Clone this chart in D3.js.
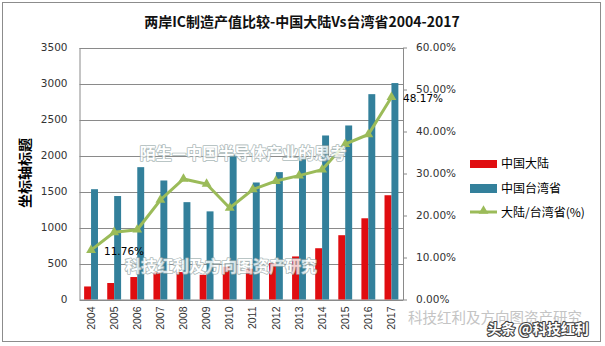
<!DOCTYPE html>
<meta charset="utf-8">
<head>
<style>
body { margin: 0; background: #fff; }
svg { display: block; }
.tick text { font: 10.5px "DejaVu Sans", sans-serif; fill: #333; }
.grid line { stroke: #8a8a8a; }
.wm { paint-order: stroke; stroke-linejoin: round; }
</style>
</head>
<body>
<svg width="605" height="346"></svg>
<script src="https://d3js.org/d3.v7.min.js"></script>
<script>

var years = ["2004","2005","2006","2007","2008","2009","2010","2011","2012","2013","2014","2015","2016","2017"];
var mainland = [181, 229, 312, 382, 381, 343, 455, 428, 505, 598, 712, 893, 1128, 1448];
var taiwan = [1532, 1437, 1838, 1653, 1352, 1224, 2008, 1625, 1769, 1977, 2278, 2417, 2852, 3006];
var ratio = [11.76, 16.0, 16.6, 23.7, 28.7, 27.5, 21.8, 26.2, 28.2, 29.5, 30.9, 37.0, 39.3, 48.17];
var leftTicks = [0, 500, 1000, 1500, 2000, 2500, 3000, 3500];
var rightTicks = [0, 10, 20, 30, 40, 50, 60];
var seriesNames = ["中国大陆", "中国台湾省", "大陆/台湾省(%)"];

var svg = d3.select("svg"),
    pL = 79.5, pR = 403, pT = 47.5, pB = 299.5;

var red = "#e00d10", teal = "#33809b", green = "#9bbb59";

// outer frame
svg.append("rect").attr("x", 2.5).attr("y", 2.5).attr("width", 598).attr("height", 339)
  .attr("fill", "#fff").attr("stroke", "#8c8c8c");

svg.append("text").attr("x", 302).attr("y", 27).attr("text-anchor", "middle")
  .style("font", "bold 14px 'Noto Sans CJK SC', sans-serif").attr("fill", "#111")
  .text("两岸IC制造产值比较-中国大陆Vs台湾省2004-2017");

var x0 = d3.scaleBand().domain(years).range([pL, pR]).paddingInner(0.4).paddingOuter(0.2);
var x1 = d3.scaleBand().domain(["m", "t"]).range([0, x0.bandwidth()]);
var y = d3.scaleLinear().domain([0, 3500]).range([pB, pT]);
var y2 = d3.scaleLinear().domain([0, 60]).range([pB, pT]);

// gridlines
svg.append("g").attr("class", "grid")
  .selectAll("line").data(leftTicks).enter().append("line")
  .attr("x1", pL).attr("x2", pR)
  .attr("y1", function(d) { return Math.round(y(d)) + 0.5; })
  .attr("y2", function(d) { return Math.round(y(d)) + 0.5; });

var yAxis = svg.append("g").attr("transform", "translate(" + pL + ",0)")
  .call(d3.axisLeft(y).tickValues(leftTicks).tickSize(0).tickPadding(12).tickFormat(d3.format("d")));
yAxis.select(".domain").attr("stroke", "#8a8a8a");

var yAxis2 = svg.append("g").attr("transform", "translate(" + pR + ",0)")
  .call(d3.axisRight(y2).tickValues(rightTicks).tickSize(4).tickSizeOuter(0).tickPadding(9)
    .tickFormat(function(d) { return d.toFixed(2) + "%"; }));
yAxis2.selectAll("line, .domain").attr("stroke", "#8a8a8a");

var xAxis = svg.append("g").attr("transform", "translate(0," + pB + ")")
  .call(d3.axisBottom(x0).tickSize(0));
xAxis.select(".domain").attr("stroke", "#8a8a8a");
xAxis.selectAll("text")
  .style("font", "10.5px 'Liberation Sans', sans-serif")
  .attr("transform", "rotate(-90)")
  .attr("text-anchor", "end")
  .attr("x", -7).attr("y", 0).attr("dy", "0.35em");

svg.append("text")
  .attr("transform", "translate(30,173) rotate(-90)")
  .attr("text-anchor", "middle")
  .style("font", "bold 14px 'Noto Sans CJK SC', sans-serif")
  .text("坐标轴标题");

// bars
svg.append("g").selectAll("rect").data(mainland).enter().append("rect")
  .attr("x", function(d, i) { return x0(years[i]) + x1("m"); })
  .attr("y", function(d) { return y(d); })
  .attr("width", x1.bandwidth())
  .attr("height", function(d) { return pB - y(d); })
  .attr("fill", red);

svg.append("g").selectAll("rect").data(taiwan).enter().append("rect")
  .attr("x", function(d, i) { return x0(years[i]) + x1("t"); })
  .attr("y", function(d) { return y(d); })
  .attr("width", x1.bandwidth())
  .attr("height", function(d) { return pB - y(d); })
  .attr("fill", teal);

// ratio line
var cx = function(d, i) { return x0(years[i]) + x0.bandwidth() / 2; };
var line = d3.line().x(cx).y(function(d) { return y2(d); });
svg.append("path").datum(ratio).attr("d", line)
  .attr("fill", "none").attr("stroke", green).attr("stroke-width", 3);

var tri = d3.symbol().type(d3.symbolTriangle).size(42);
svg.append("g").selectAll("path").data(ratio).enter().append("path")
  .attr("d", tri)
  .attr("transform", function(d, i) { return "translate(" + cx(d, i) + "," + y2(d) + ")"; })
  .attr("fill", green);

// data labels
svg.append("text").attr("x", 104).attr("y", 255)
  .style("font", "10.5px 'DejaVu Sans', sans-serif").text(ratio[0].toFixed(2) + "%");
svg.append("text").attr("x", 403).attr("y", 102)
  .style("font", "10.5px 'DejaVu Sans', sans-serif").text(ratio[13].toFixed(2) + "%");

// legend
var lg = svg.append("g").attr("transform", "translate(470,0)");
lg.append("rect").attr("x", 0).attr("y", 160).attr("width", 27).attr("height", 8).attr("fill", red);
lg.append("rect").attr("x", 0).attr("y", 184).attr("width", 27).attr("height", 9).attr("fill", teal);
lg.append("line").attr("x1", 0).attr("x2", 27).attr("y1", 212).attr("y2", 212)
  .attr("stroke", green).attr("stroke-width", 3);
lg.append("path").attr("d", tri).attr("transform", "translate(13.5,211)").attr("fill", green);
lg.selectAll("text.lg").data(seriesNames).enter().append("text")
  .attr("x", 31).attr("y", function(d, i) { return 164 + i * 24.5; })
  .attr("dy", "0.35em")
  .style("font", "12px 'Noto Sans CJK SC', sans-serif")
  .text(function(d) { return d; });

// watermarks
var wmFont = "bold 16px 'Noto Sans CJK SC', sans-serif";
svg.append("text").attr("class", "wm").attr("x", 243).attr("y", 153).attr("dy", "0.35em")
  .attr("text-anchor", "middle").style("font", wmFont)
  .attr("fill", "#fff").attr("stroke", "#9aa").attr("stroke-width", 1.6).attr("opacity", 0.8)
  .text("陌生—中国半导体产业的思考");
svg.append("text").attr("class", "wm").attr("x", 221).attr("y", 266).attr("dy", "0.35em")
  .attr("text-anchor", "middle").style("font", wmFont)
  .attr("fill", "#fff").attr("stroke", "#9aa").attr("stroke-width", 1.6).attr("opacity", 0.8)
  .text("科技红利及方向图资产研究");
svg.append("text").attr("x", 495).attr("y", 318).attr("dy", "0.35em")
  .attr("text-anchor", "middle").style("font", "14.5px 'Noto Sans CJK SC', sans-serif")
  .attr("fill", "#c4c4c4")
  .text("科技红利及方向图资产研究");
svg.append("text").attr("class", "wm").attr("x", 538).attr("y", 329).attr("dy", "0.35em")
  .attr("text-anchor", "middle").style("font", "bold 14px 'Noto Sans CJK SC', sans-serif")
  .attr("fill", "#fff").attr("stroke", "#444").attr("stroke-width", 2.2)
  .text("头条 @科技红利");

</script>
</body>
</html>
